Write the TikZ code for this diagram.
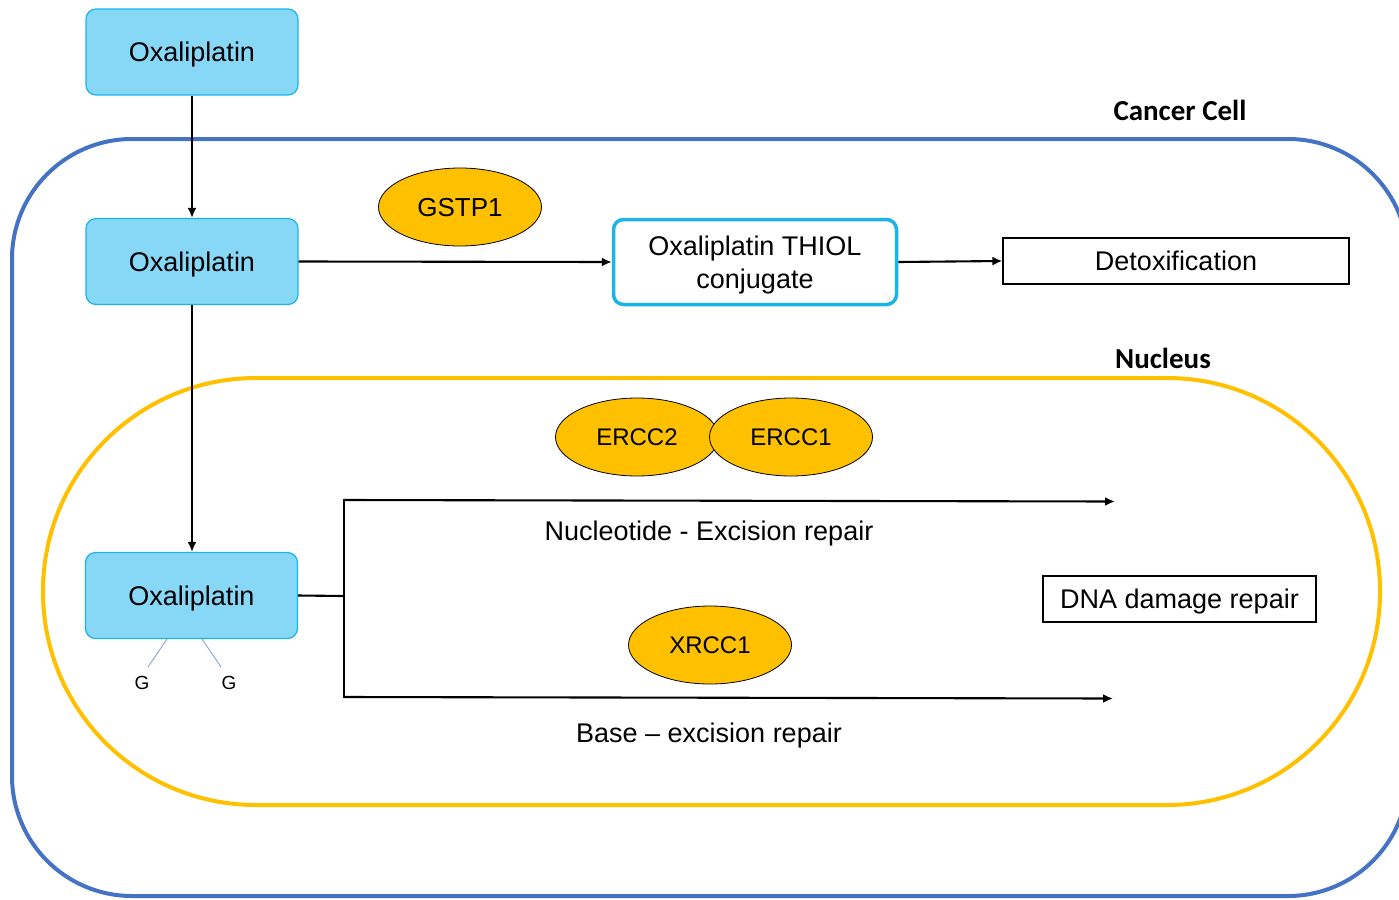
\documentclass[tikz,border=0pt]{standalone}
\usepackage{fontspec}
\setmainfont{Liberation Sans}
\newfontfamily\calibrifont{Carlito}
\usetikzlibrary{arrows.meta,shapes.geometric}
\definecolor{cellblue}{HTML}{4472C4}
\definecolor{nucyellow}{HTML}{FFC000}
\definecolor{oxfill}{HTML}{87D8F7}
\definecolor{oxdraw}{HTML}{1BB4E8}
\definecolor{gline}{HTML}{8EA9DB}
\tikzset{
  every node/.append style={text depth=0pt},
  oxbox/.style={rectangle, rounded corners=10pt, fill=oxfill, draw=oxdraw, line width=1.2pt,
    minimum width=212pt, minimum height=86pt, font=\fontsize{27}{30}\selectfont},
  enz/.style={ellipse, fill=nucyellow, draw=black, line width=0.8pt, minimum width=163pt,
    minimum height=78pt, inner sep=0pt},
  plainbox/.style={rectangle, draw=black, line width=1.2pt, minimum height=46pt,
    font=\fontsize{27}{30}\selectfont},
  arr/.style={line width=2.1pt, -{Latex[length=10pt,width=9pt]}},
  conn/.style={line width=2.1pt},
  lbl/.style={font=\fontsize{27}{30}\selectfont},
  title/.style={font=\calibrifont\bfseries\fontsize{29}{32}\selectfont},
}
\begin{document}
\begin{tikzpicture}[x=1pt,y=-1pt]
\useasboundingbox (0,0) rectangle (1399,899);
\clip (0,0) rectangle (1399,899);
% compartments
\draw[cellblue, line width=4pt, rounded corners=120pt] (12,139) rectangle (1408,896);
\draw[nucyellow, line width=4pt, rounded corners=213pt] (43,378) rectangle (1380,805);
\node[title] (cc) at (1180,110) {Cancer Cell};
\node[title] (nuc) at (1163,358) {Nucleus};
% nodes
\node[oxbox] (ox1) at (192,52) {Oxaliplatin};
\node[oxbox] (ox2) at (192,261.5) {Oxaliplatin};
\node[oxbox] (ox3) at (191.5,595.5) {Oxaliplatin};
\node[enz, font=\fontsize{26}{28}\selectfont] (gstp) at (460,207) {GSTP1};
\node[rectangle, rounded corners=10pt, draw=oxdraw, fill=white, line width=3.5pt,
  minimum width=283pt, minimum height=85pt, align=center,
  font=\fontsize{27}{33}\selectfont] (thiol) at (755,262) {Oxaliplatin THIOL\\conjugate};
\node[plainbox, minimum width=346pt] (detox) at (1176,261) {Detoxification};
\node[enz, font=\fontsize{24}{26}\selectfont] (ercc2) at (637,437) {ERCC2};
\node[enz, font=\fontsize{24}{26}\selectfont] (ercc1) at (791,437) {ERCC1};
\node[enz, font=\fontsize{24}{26}\selectfont] (xrcc) at (710,645) {XRCC1};
\node[plainbox, minimum width=273pt] (dna) at (1179.5,599) {DNA damage repair};
\node[lbl] (ner) at (709,531) {Nucleotide - Excision repair};
\node[lbl] (ber) at (709,733) {Base -- excision repair};
\node[font=\fontsize{19}{21}\selectfont] (g1) at (142,683) {G};
\node[font=\fontsize{19}{21}\selectfont] (g2) at (229,683) {G};
% connectors
\draw[arr] (ox1.south) -- (ox2.north);
\draw[arr] (ox2.east) -- (thiol.west);
\draw[arr] (thiol.east) -- (detox.west);
\draw[arr] (ox2.south) -- (ox2.south |- ox3.north);
\coordinate (br) at (344,596);
\coordinate (bt) at (344,500);
\coordinate (bb) at (344,697);
\coordinate (nerend) at (1115,501.5);
\coordinate (berend) at (1113,698.5);
\draw[conn] (ox3.east) -- (br);
\draw[conn, line cap=rect] (bt) -- (bb);
\draw[arr] (bt) -- (nerend);
\draw[arr] (bb) -- (berend);
\coordinate (gs1) at (167,639);
\coordinate (gs2) at (202,639);
\coordinate (ge1) at (148,667);
\coordinate (ge2) at (221,667);
\draw[gline, line width=1pt] (gs1) -- (ge1);
\draw[gline, line width=1pt] (gs2) -- (ge2);
\end{tikzpicture}
\end{document}
